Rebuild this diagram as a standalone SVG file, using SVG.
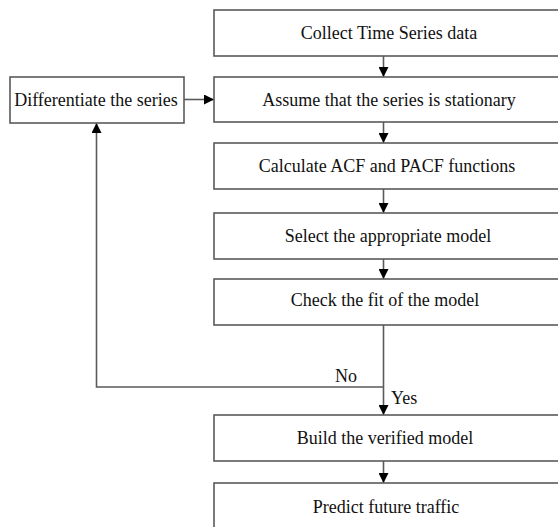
<svg xmlns="http://www.w3.org/2000/svg" width="558" height="527" viewBox="0 0 558 527">
  <style>
    .box { fill: #ffffff; stroke: #5a5a5a; stroke-width: 1.6; }
    .lbl { font-family: "Liberation Serif", "Times New Roman", serif; font-size: 18px; fill: #111111; text-anchor: middle; }
    .tag { font-family: "Liberation Serif", "Times New Roman", serif; font-size: 18px; fill: #111111; }
    .link { fill: none; stroke: #5a5a5a; stroke-width: 1.6; }
  </style>
  <defs>
    <marker id="arrow" viewBox="0 0 10 10" refX="10" refY="5" markerWidth="10" markerHeight="10" markerUnits="userSpaceOnUse" orient="auto">
      <path d="M0,0 L10,5 L0,10 Z" fill="#000000"/>
    </marker>
  </defs>
  <rect width="558" height="527" fill="#ffffff"/>

  <g id="connectors">
    <line class="link" x1="383.5" y1="56" x2="383.5" y2="77" marker-end="url(#arrow)"/>
    <line class="link" x1="383.5" y1="122" x2="383.5" y2="143" marker-end="url(#arrow)"/>
    <line class="link" x1="383.5" y1="189" x2="383.5" y2="213" marker-end="url(#arrow)"/>
    <line class="link" x1="383.5" y1="259" x2="383.5" y2="279" marker-end="url(#arrow)"/>
    <line class="link" x1="383.5" y1="325" x2="383.5" y2="415" marker-end="url(#arrow)"/>
    <line class="link" x1="383.5" y1="461" x2="383.5" y2="483" marker-end="url(#arrow)"/>
    <polyline class="link" points="383.5,387 96.5,387 96.5,123" marker-end="url(#arrow)"/>
    <line class="link" x1="184" y1="99.5" x2="214" y2="99.5" marker-end="url(#arrow)"/>
    <text class="tag" x="335" y="382">No</text>
    <text class="tag" x="391" y="404">Yes</text>
  </g>

  <g id="collect">
    <rect class="box" x="214" y="10" width="350" height="46"/>
    <text class="lbl" x="389" y="39">Collect Time Series data</text>
  </g>
  <g id="differentiate">
    <rect class="box" x="10" y="77" width="174" height="46"/>
    <text class="lbl" x="96" y="106">Differentiate the series</text>
  </g>
  <g id="assume">
    <rect class="box" x="214" y="77" width="350" height="45"/>
    <text class="lbl" x="389" y="105.5">Assume that the series is stationary</text>
  </g>
  <g id="calculate">
    <rect class="box" x="214" y="143" width="350" height="46"/>
    <text class="lbl" x="387" y="172">Calculate ACF and PACF functions</text>
  </g>
  <g id="select">
    <rect class="box" x="214" y="213" width="350" height="46"/>
    <text class="lbl" x="388" y="242">Select the appropriate model</text>
  </g>
  <g id="check">
    <rect class="box" x="214" y="279" width="350" height="46"/>
    <text class="lbl" x="385" y="306">Check the fit of the model</text>
  </g>
  <g id="build">
    <rect class="box" x="214" y="415" width="350" height="46"/>
    <text class="lbl" x="385" y="444">Build the verified model</text>
  </g>
  <g id="predict">
    <rect class="box" x="214" y="483" width="350" height="50"/>
    <text class="lbl" x="386" y="513">Predict future traffic</text>
  </g>
</svg>
